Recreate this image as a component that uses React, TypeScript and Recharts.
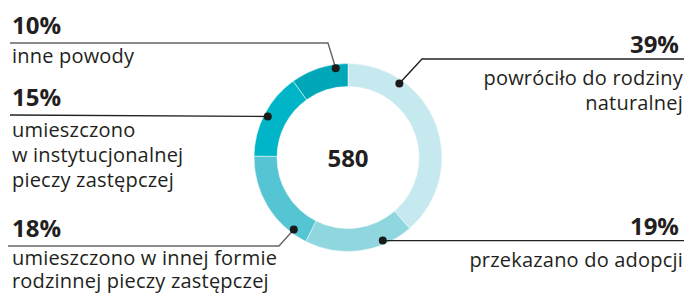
import React from 'react';
import { PieChart, Pie, Cell } from 'recharts';

const categories = [
  'powróciło do rodziny naturalnej',
  'przekazano do adopcji',
  'umieszczono w innej formie rodzinnej pieczy zastępczej',
  'umieszczono w instytucjonalnej pieczy zastępczej',
  'inne powody',
];
const shares = [39, 19, 18, 15, 10];
const labelLines = [
  ['powróciło do rodziny', 'naturalnej'],
  ['przekazano do adopcji'],
  ['umieszczono w innej formie', 'rodzinnej pieczy zastępczej'],
  ['umieszczono', 'w instytucjonalnej', 'pieczy zastępczej'],
  ['inne powody'],
];
const total = 580;

const colors = ['#c6e8ef', '#8fd6df', '#55c4d3', '#00b5c7', '#00a7b9'];

const data = categories.map((name, i) => ({ name, value: shares[i] }));

// where the dot sits inside each slice (0 = start, 1 = end) and where the text goes
const layout = [
  { f: 0.25, anchor: 'end', x: 683, pctY: 53, textY: 85, lineH: 25, path: (dx: number, dy: number) => `M${dx},${dy} L422,59 L684,59`, stroke: '#222' },
  { f: 0.27, anchor: 'end', x: 683, pctY: 235, textY: 267, lineH: 25, path: (dx: number, dy: number) => `M${dx},${dy} L684,${dy}`, stroke: '#222' },
  { f: 0.16, anchor: 'start', x: 12, pctY: 237, textY: 265, lineH: 22.5, path: (dx: number, dy: number) => `M${dx},${dy} L279,246 L8,246`, stroke: '#666' },
  { f: 0.49, anchor: 'start', x: 12, pctY: 106, textY: 137, lineH: 25, path: (dx: number, dy: number) => `M${dx},${dy} L10,115`, stroke: '#222' },
  { f: 0.78, anchor: 'start', x: 12, pctY: 34, textY: 63, lineH: 25, path: (dx: number, dy: number) => `M${dx},${dy} L328,43 L10,43`, stroke: '#666' },
];

const RAD = Math.PI / 180;
const FONT = '"Open Sans", "Noto Sans", sans-serif';

const renderLabel = (props: any) => {
  const { cx, cy, startAngle, endAngle, innerRadius, outerRadius, index, value } = props;
  const l = layout[index];
  const ang = startAngle + (endAngle - startAngle) * l.f;
  const r = innerRadius + (outerRadius - innerRadius) * 0.83;
  const dx = cx + r * Math.cos(ang * RAD);
  const dy = cy - r * Math.sin(ang * RAD);
  const pctX = l.anchor === 'end' ? l.x - 4 : l.x;
  return (
    <g>
      <path d={l.path(dx, dy)} fill="none" stroke={l.stroke} strokeWidth={1.4} />
      <circle cx={dx} cy={dy} r={4} fill="#1a1a1a" />
      <text x={pctX} y={l.pctY} textAnchor={l.anchor} fontFamily={FONT} fontWeight={700} fontSize={24} fill="#231f20">
        {`${value}%`}
      </text>
      {labelLines[index].map((t, j) => (
        <text key={j} x={l.x} y={l.textY + j * l.lineH} textAnchor={l.anchor} fontFamily={FONT} fontSize={20} letterSpacing={0.2} fill="#231f20">
          {t}
        </text>
      ))}
      {index === 0 && (
        <text x={cx} y={cy + 9} textAnchor="middle" fontFamily={FONT} fontWeight={700} fontSize={24} fill="#231f20">
          {total}
        </text>
      )}
    </g>
  );
};

export default function App() {
  return (
    <div style={{ position: 'absolute', left: 0, top: 0, background: '#fff' }}>
      <PieChart width={686} height={297} margin={{ top: 0, right: 0, bottom: 0, left: 0 }}>
        <Pie
          data={data}
          dataKey="value"
          nameKey="name"
          cx={348}
          cy={157.5}
          innerRadius={71}
          outerRadius={94}
          startAngle={90}
          endAngle={-270}
          stroke="#ffffff"
          strokeWidth={0.5}
          label={renderLabel}
          labelLine={false}
          isAnimationActive={false}
        >
          {data.map((d, i) => (
            <Cell key={d.name} fill={colors[i]} />
          ))}
        </Pie>
      </PieChart>
    </div>
  );
}
